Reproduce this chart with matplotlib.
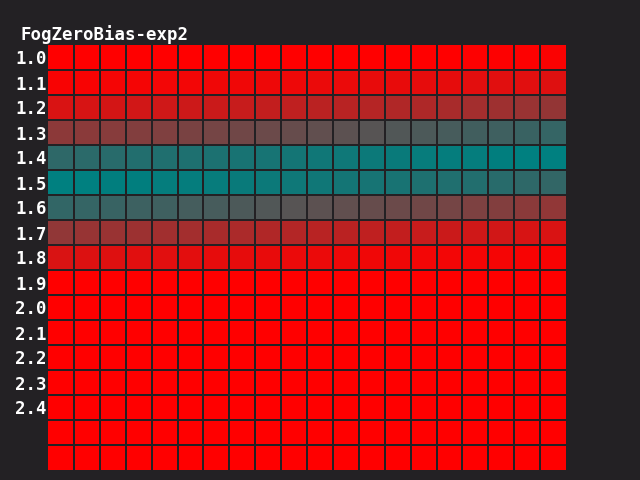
import numpy as np
import matplotlib
matplotlib.use("Agg")
from matplotlib import pyplot as plt
from matplotlib.colors import LinearSegmentedColormap

# fog amount per cell: 0 = red, 1 = teal; rows are bias values, 20 columns
row_labels = ["1.0", "1.1", "1.2", "1.3", "1.4", "1.5", "1.6", "1.7",
              "1.8", "1.9", "2.0", "2.1", "2.2", "2.3", "2.4"]
n_cols = 20

row_10 = [0.0] * 16 + [0.01, 0.01, 0.01, 0.02]
row_11 = [0.03, 0.03, 0.04, 0.04, 0.05, 0.05, 0.06, 0.06, 0.07, 0.07,
          0.08, 0.08, 0.09, 0.09, 0.10, 0.10, 0.11, 0.12, 0.12, 0.13]
row_12 = [0.15, 0.16, 0.17, 0.18, 0.19, 0.20, 0.21, 0.22, 0.24, 0.25,
          0.27, 0.28, 0.29, 0.31, 0.32, 0.34, 0.36, 0.38, 0.40, 0.42]
row_13 = [0.45, 0.46, 0.47, 0.49, 0.50, 0.52, 0.54, 0.56, 0.58, 0.60,
          0.62, 0.64, 0.66, 0.68, 0.70, 0.72, 0.74, 0.75, 0.77, 0.79]
row_14 = [0.82, 0.83, 0.84, 0.86, 0.87, 0.88, 0.89, 0.90, 0.91, 0.92,
          0.93, 0.94, 0.95, 0.96, 0.97, 0.98, 0.98, 0.99, 1.00, 1.00]
row_15 = [1.00, 1.00, 0.99, 0.99, 0.98, 0.98, 0.97, 0.96, 0.95, 0.94,
          0.93, 0.92, 0.91, 0.90, 0.88, 0.87, 0.86, 0.84, 0.82, 0.80]
row_16 = [0.80, 0.79, 0.78, 0.76, 0.75, 0.73, 0.72, 0.70, 0.68, 0.66,
          0.64, 0.62, 0.60, 0.58, 0.56, 0.54, 0.51, 0.49, 0.46, 0.43]
row_17 = [0.43, 0.41, 0.40, 0.39, 0.37, 0.36, 0.34, 0.33, 0.31, 0.30,
          0.28, 0.27, 0.25, 0.24, 0.22, 0.21, 0.19, 0.18, 0.16, 0.15]
row_18 = [0.15, 0.14, 0.13, 0.12, 0.12, 0.11, 0.10, 0.10, 0.09, 0.08,
          0.08, 0.07, 0.06, 0.06, 0.05, 0.05, 0.04, 0.04, 0.03, 0.03]
row_clear = [0.0] * n_cols  # 1.9 and beyond, plus two unlabeled rows

rows = [row_10, row_11, row_12, row_13, row_14, row_15, row_16, row_17, row_18]
rows += [row_clear] * 8
grid = np.array(rows)

BG = "#232124"
cmap = LinearSegmentedColormap.from_list("fog", ["#ff0000", "#008080"])

fig = plt.figure(figsize=(6.4, 4.8), dpi=100, facecolor=BG)
ax = fig.add_axes([48 / 640, 10 / 480, 518 / 640, 425 / 480])
ax.set_facecolor(BG)

# cells fill the axes; inner grid lines only, crisp and thin
ax.imshow(grid, cmap=cmap, vmin=0, vmax=1, aspect="auto",
          interpolation="nearest", extent=(0, n_cols, len(rows), 0))
for i in range(1, n_cols):
    ax.axvline(i, color=BG, linewidth=1.2, antialiased=False)
for j in range(1, len(rows)):
    ax.axhline(j, color=BG, linewidth=1.2, antialiased=False)
ax.set_xlim(0, n_cols)
ax.set_ylim(len(rows), 0)

ax.set_xticks([])
ax.set_yticks(np.arange(len(row_labels)) + 0.5)
ax.set_yticklabels(row_labels, family="DejaVu Sans Mono", weight="bold",
                   fontsize=12.5, color="white")
ax.tick_params(axis="y", length=0, pad=1)
for s in ax.spines.values():
    s.set_visible(False)

fig.text(20 / 640, 1 - 40 / 480, "FogZeroBias-exp2", family="DejaVu Sans Mono",
         weight="bold", fontsize=12.5, color="white", va="baseline", ha="left")

fig.savefig("out.png", dpi=100, facecolor=BG)
